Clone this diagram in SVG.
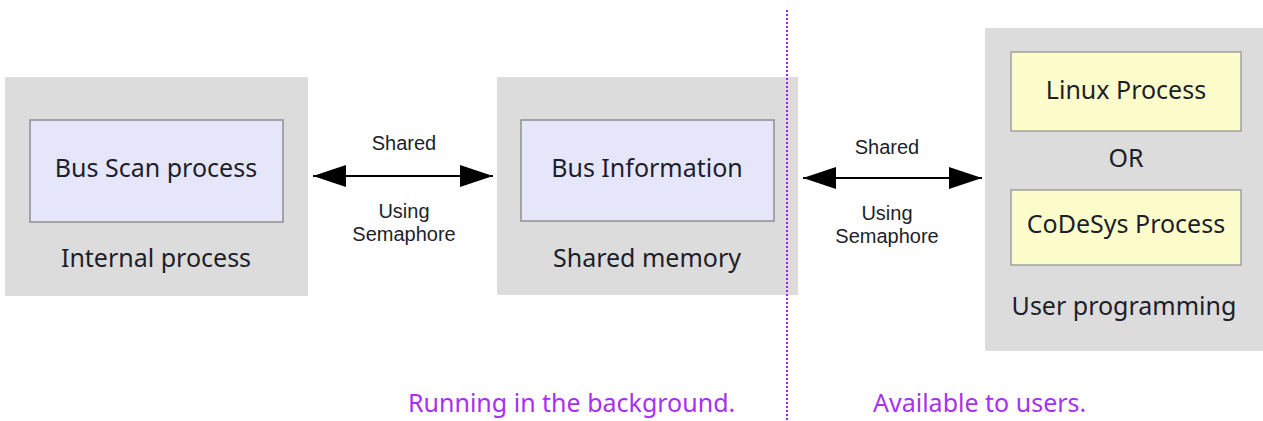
<svg xmlns="http://www.w3.org/2000/svg" width="1263" height="421" viewBox="0 0 1263 421">
<defs>
<style>
.outer{fill:#dcdcdc;}
.blue{fill:#e6e6fb;stroke:#8f8f8f;stroke-width:1.5;}
.yellow{fill:#fdfdcc;stroke:#a0a0a0;stroke-width:1.5;}
.t{font-family:"Noto Sans","Open Sans",sans-serif;font-size:25px;fill:#1e1e2a;text-anchor:middle;}
.s{font-family:"Liberation Sans",Arial,sans-serif;font-size:20px;fill:#1e1e2a;text-anchor:middle;}
.p{font-family:"Noto Sans","Open Sans",sans-serif;font-size:25px;fill:#a830f0;}
.conn{stroke:#000;stroke-width:2;fill:none;}
</style>
<marker id="ah" viewBox="0 0 33 22" refX="33" refY="11" markerWidth="33" markerHeight="22" markerUnits="userSpaceOnUse" orient="auto-start-reverse">
<path d="M0,0 L33,11 L0,22 Z" fill="#000"/>
</marker>
</defs>
<g id="internal">
<rect class="outer" x="5" y="77" width="303" height="219"/>
<rect class="blue" x="30" y="120" width="253" height="102"/>
<text class="t" x="156" y="177">Bus Scan process</text>
<text class="t" x="156" y="267">Internal process</text>
</g>
<g id="shared">
<rect class="outer" x="497" y="77" width="301" height="218"/>
<rect class="blue" x="521" y="120" width="253" height="101"/>
<text class="t" x="647" y="177">Bus Information</text>
<text class="t" x="647" y="267">Shared memory</text>
</g>
<g id="user">
<rect class="outer" x="985" y="28" width="278" height="323"/>
<rect class="yellow" x="1011" y="52" width="230" height="79"/>
<rect class="yellow" x="1011" y="190" width="230" height="75"/>
<text class="t" x="1126" y="99">Linux Process</text>
<text class="t" x="1126" y="167">OR</text>
<text class="t" x="1126" y="233">CoDeSys Process</text>
<text class="t" x="1124" y="315">User programming</text>
</g>
<g id="divider">
<line x1="787" y1="10" x2="787" y2="421" stroke="#a020f0" stroke-width="2" stroke-dasharray="2,2"/>
</g>
<g id="connectors">
<line class="conn" x1="313" y1="176" x2="493" y2="176" marker-start="url(#ah)" marker-end="url(#ah)"/>
<line class="conn" x1="803" y1="178" x2="982" y2="178" marker-start="url(#ah)" marker-end="url(#ah)"/>
<text class="s" x="404" y="150">Shared</text>
<text class="s" x="404" y="218">Using</text>
<text class="s" x="404" y="241">Semaphore</text>
<text class="s" x="887" y="154">Shared</text>
<text class="s" x="887" y="220">Using</text>
<text class="s" x="887" y="243">Semaphore</text>
</g>
<g id="labels">
<text class="p" x="408" y="412">Running in the background.</text>
<text class="p" x="873" y="412">Available to users.</text>
</g>
</svg>
